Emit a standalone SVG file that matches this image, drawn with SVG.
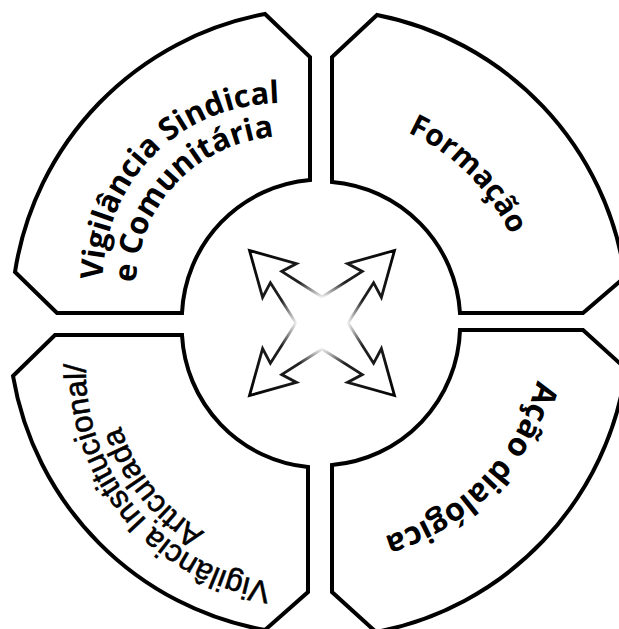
<svg xmlns="http://www.w3.org/2000/svg" width="619" height="629" viewBox="0 0 619 629">
<style>
.seg{fill:#fff;stroke:#000;stroke-width:4;stroke-linejoin:miter}
.t1{font-family:"Open Sans","Noto Sans","DejaVu Sans",sans-serif;font-weight:700;fill:#000}
.t2{font-family:"Liberation Sans",Arial,sans-serif;font-weight:400;fill:#000;stroke:#000;stroke-width:0.6}
</style>
<defs>
<path id="pTL1" d="M120.7,375.2 A236,200 45 0 1 374.7,121.2"/>
<path id="pTL2" d="M150.8,367.1 A200,170 45 0 1 366.6,151.3"/>
<path id="pTR" d="M267.2,120.6 A208,208 0 0 1 521.9,375.3"/>
<path id="pBR" d="M536.8,261.4 A224,224 0 0 1 265.1,538.4"/>
<path id="pBL1" d="M408,554.8 A214,214 0 0 1 135.3,233.3"/>
<path id="pBL2" d="M389.7,535.2 A188,188 0 0 1 159.2,245.4"/>
<radialGradient id="fade" gradientUnits="userSpaceOnUse" cx="322" cy="323" r="110">
<stop offset="0" stop-color="#fff"/>
<stop offset="0.22" stop-color="#fff"/>
<stop offset="0.42" stop-color="#222"/>
<stop offset="1" stop-color="#000"/>
</radialGradient>
</defs>
<rect width="619" height="629" fill="#fff"/>
<g id="vigilancia-sindical">
<path class="seg" d="M310,180 V57 L265,14 A311,311 0 0 0 15,272 L57,313 H182 A140,140 0 0 1 310,180 Z"/>
<text class="t1" font-size="31"><textPath href="#pTL1" startOffset="50%" text-anchor="middle">Vigilância Sindical</textPath></text>
<text class="t1" font-size="31"><textPath href="#pTL2" startOffset="49%" text-anchor="middle">e Comunitária</textPath></text>
</g>
<g id="formacao">
<path class="seg" d="M332,182 V57 L377,15 A311,311 0 0 1 625,277 L583,313 H460 A140,140 0 0 0 332,182 Z"/>
<text class="t1" font-size="30"><textPath href="#pTR" startOffset="50%" text-anchor="middle">Formação</textPath></text>
</g>
<g id="acao-dialogica">
<path class="seg" d="M460,330 H583 L626,369 A311,311 0 0 1 376,632 L332,592 V465 A140,140 0 0 0 460,330 Z"/>
<text class="t1" font-size="32"><textPath href="#pBR" startOffset="50%" text-anchor="middle">Ação dialógica</textPath></text>
</g>
<g id="vigilancia-institucional">
<path class="seg" d="M182,335 H55 L13,376 A311,311 0 0 0 265,630 L308,592 V467 A140,140 0 0 1 182,335 Z"/>
<text class="t2" font-size="31"><textPath href="#pBL1" startOffset="50%" text-anchor="middle">Vigilância Institucional/</textPath></text>
<text class="t2" font-size="31"><textPath href="#pBL2" startOffset="50%" text-anchor="middle">Articulada</textPath></text>
</g>
<g id="connectors">
<path fill="#fff" stroke="url(#fade)" stroke-width="2.8" stroke-linejoin="miter" d="M296,323 L270.4,282.7 L262.6,297.5 L249.5,250.5 L296.5,263.6 L281.7,271.4 L322,297 L362.3,271.4 L347.5,263.6 L394.5,250.5 L381.4,297.5 L373.6,282.7 L348,323 L373.6,363.3 L381.4,348.5 L394.5,395.5 L347.5,382.4 L362.3,374.6 L322,349 L281.7,374.6 L296.5,382.4 L249.5,395.5 L262.6,348.5 L270.4,363.3 Z"/>
</g>
</svg>
